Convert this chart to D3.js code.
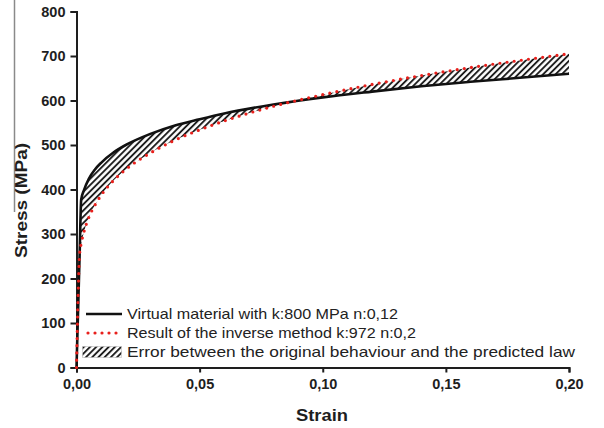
<!DOCTYPE html>
<html>
<head>
<meta charset="utf-8">
<script src="https://cdn.jsdelivr.net/npm/d3@7"></script>
<style>
  html, body { margin: 0; padding: 0; background: #fff; }
  svg { display: block; font-family: "Liberation Sans", Arial, sans-serif; }
</style>
</head>
<body>
<svg id="chart" width="604" height="428"></svg>
<script>
// Strain values shared by both curves
const strain = [0, 0.0013, 0.0019, 0.003, 0.005, 0.0075, 0.01, 0.015, 0.02, 0.03, 0.04, 0.05, 0.06, 0.08, 0.10, 0.12, 0.14, 0.16, 0.18, 0.20];
// Virtual material (k = 800 MPa, n = 0.12), stress in MPa
const stressVirtual = [0, 260, 377, 398, 424, 445, 460, 483, 500, 525, 544, 558, 571, 591, 607, 620, 632, 642, 651, 660];
// Inverse method result (k = 972 MPa, n = 0.2), stress in MPa
const stressInverse = [0, 257, 278, 304, 337, 365, 387, 420, 445, 482, 511, 534, 554, 587, 613, 636, 656, 674, 690, 705];

const xTicks = [0, 0.05, 0.10, 0.15, 0.20];
const yTicks = [0, 100, 200, 300, 400, 500, 600, 700, 800];
const legendLabels = [
  "Virtual material with k:800 MPa n:0,12",
  "Result of the inverse method k:972 n:0,2",
  "Error between the original behaviour and the predicted law"
];
const legendWidths = [271, 289, 448];

const svg = d3.select("#chart");
const ink = "#1e1e1e";

const x = d3.scaleLinear().domain([0, 0.20]).range([76.5, 569]);
const y = d3.scaleLinear().domain([0, 800]).range([367.5, 11.5]);

// Diagonal hatch pattern
const defs = svg.append("defs");
const pat = defs.append("pattern")
  .attr("id", "hatch")
  .attr("patternUnits", "userSpaceOnUse")
  .attr("width", 4.4).attr("height", 4.4)
  .attr("patternTransform", "rotate(45)");
pat.append("rect").attr("width", 4.4).attr("height", 4.4).attr("fill", "#fff");
pat.append("line")
  .attr("x1", 1).attr("y1", 0).attr("x2", 1).attr("y2", 4.4)
  .attr("stroke", "#111").attr("stroke-width", 1.8);

// thin grey rule at the far left
svg.append("line")
  .attr("x1", 14.5).attr("y1", 0).attr("x2", 14.5).attr("y2", 212)
  .attr("stroke", "#8a8a8a").attr("stroke-width", 1.5);

const pts = strain.map((s, i) => ({ s, a: stressVirtual[i], b: stressInverse[i] }));

// hatched error region between the two curves
svg.append("path")
  .datum(pts)
  .attr("fill", "url(#hatch)")
  .attr("d", d3.area().curve(d3.curveMonotoneX)
    .x(d => x(d.s)).y0(d => y(d.a)).y1(d => y(d.b)));

// Axes
const xAxis = svg.append("g")
  .attr("transform", `translate(0,${y(0)})`)
  .call(d3.axisBottom(x).tickValues(xTicks).tickSizeOuter(0).tickSize(5).tickPadding(6)
    .tickFormat(d => d3.format(".2f")(d).replace(".", ",")));
const yAxis = svg.append("g")
  .attr("transform", `translate(${x(0)},0)`)
  .call(d3.axisLeft(y).tickValues(yTicks).tickSizeOuter(0).tickSize(6).tickPadding(5)
    .tickFormat(d3.format("d")));

[xAxis, yAxis].forEach(g => {
  g.select(".domain").attr("stroke", ink).attr("stroke-width", 2);
  g.selectAll(".tick line").attr("stroke", ink).attr("stroke-width", 2);
  g.selectAll(".tick text").attr("fill", ink)
    .style("font-size", "14.5px").style("font-weight", "bold")
    .style("font-family", "'Liberation Sans', Arial, sans-serif");
});

// Curves
svg.append("path")
  .datum(pts)
  .attr("fill", "none").attr("stroke", "#111").attr("stroke-width", 2.6)
  .attr("d", d3.line().curve(d3.curveMonotoneX).x(d => x(d.s)).y(d => y(d.a)));

svg.append("path")
  .datum(pts)
  .attr("fill", "none").attr("stroke", "#e8201c").attr("stroke-width", 3.2)
  .attr("stroke-linecap", "round").attr("stroke-dasharray", "0 7.2")
  .attr("d", d3.line().curve(d3.curveMonotoneX).x(d => x(d.s)).y(d => y(d.b)));

// Axis titles
svg.append("text")
  .attr("x", 322).attr("y", 421)
  .attr("text-anchor", "middle")
  .attr("textLength", 52).attr("lengthAdjust", "spacingAndGlyphs")
  .attr("fill", ink)
  .style("font-size", "16px").style("font-weight", "bold")
  .text("Strain");

svg.append("text")
  .attr("transform", "translate(27,200.5) rotate(-90)")
  .attr("text-anchor", "middle")
  .attr("textLength", 115).attr("lengthAdjust", "spacingAndGlyphs")
  .attr("fill", ink)
  .style("font-size", "16px").style("font-weight", "bold")
  .text("Stress (MPa)");

// Legend
const legend = svg.append("g");
const rowY = [314, 333, 352];
legend.append("line")
  .attr("x1", 86).attr("x2", 122).attr("y1", rowY[0]).attr("y2", rowY[0])
  .attr("stroke", "#111").attr("stroke-width", 2.6);
legend.append("line")
  .attr("x1", 88).attr("x2", 122).attr("y1", rowY[1]).attr("y2", rowY[1])
  .attr("stroke", "#e8201c").attr("stroke-width", 3.2)
  .attr("stroke-linecap", "round").attr("stroke-dasharray", "0 7");
legend.append("rect")
  .attr("x", 82.5).attr("y", rowY[2] - 5.5).attr("width", 39).attr("height", 11)
  .attr("fill", "url(#hatch)").attr("stroke", "#bbb").attr("stroke-width", 0.6);
legend.selectAll("text.lbl")
  .data(legendLabels)
  .join("text")
  .attr("class", "lbl")
  .attr("x", 127).attr("y", (d, i) => rowY[i] + 5)
  .attr("textLength", (d, i) => legendWidths[i])
  .attr("lengthAdjust", "spacingAndGlyphs")
  .attr("fill", "#222")
  .style("font-size", "14.5px")
  .text(d => d);
</script>
</body>
</html>
